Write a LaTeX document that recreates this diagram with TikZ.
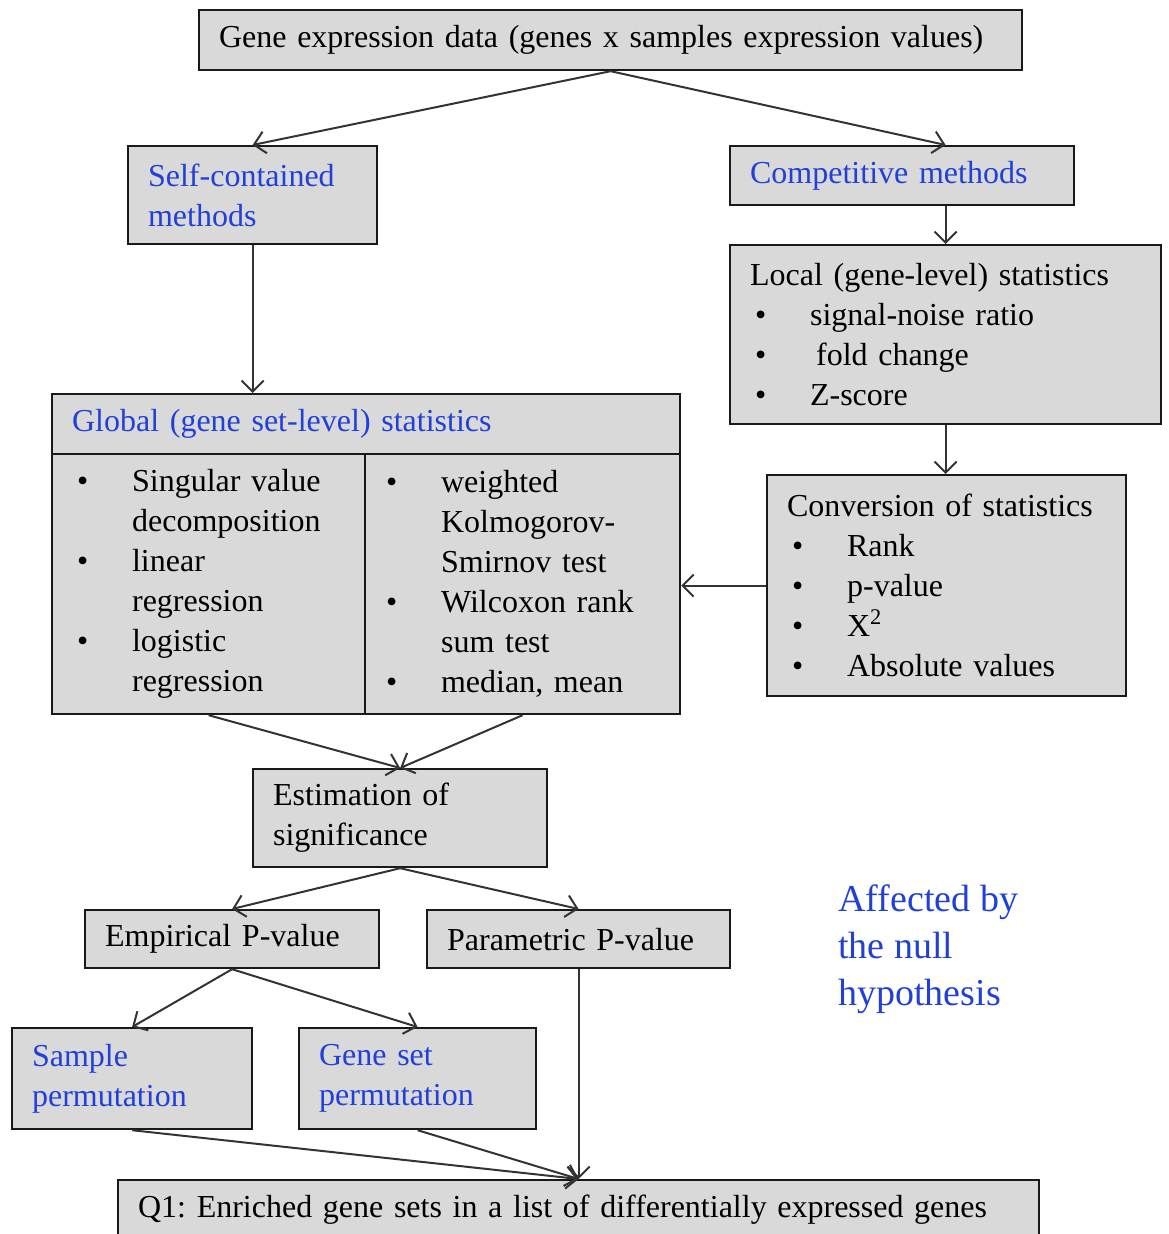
\documentclass[tikz,border=0pt]{standalone}
\usepackage{fontspec}
\setmainfont{Liberation Serif}
\usetikzlibrary{arrows.meta}
\definecolor{gseaBlue}{HTML}{2040D8}
\definecolor{gseaGray}{HTML}{D9D9D9}
\tikzset{
  gsea diagram/.style={
    x=0.5pt, y=-0.5pt,
    every node/.style={font=\fontsize{16}{20}\selectfont, text=black},
  },
  gsea box/.style={draw=black!90, line width=1.1pt, fill=gseaGray,
    anchor=north west, inner xsep=10pt, inner ysep=0pt, align=left},
  gsea method/.style={gsea box, text=gseaBlue},
  gsea arrow/.style={draw=black!80, line width=1pt,
    -{Straight Barb[length=5.5pt,width=11pt]}}
}
\newcommand{\GseaItem}[1]{\hspace*{2.5pt}\makebox[27.5pt][l]{\textbullet}#1}
\newcommand{\GseaCont}[1]{\hspace*{30pt}#1}

\begin{document}
\begin{tikzpicture}[gsea diagram]
  \useasboundingbox (0,0) rectangle (1168,1234);
  \node[gsea box, text width=391.5pt, minimum height=30pt] (top) at (198,9)
    {Gene expression data (genes x samples expression values)};
  \node[gsea method, text width=104.5pt, minimum height=49pt] (self) at (127,145)
    {Self-contained\\methods};
  \node[gsea method, text width=152pt, minimum height=29.5pt] (comp) at (729,145)
    {Competitive methods};
  \node[gsea box, text width=195.5pt, minimum height=89.5pt] (loc) at (729,244)
    {Local (gene-level) statistics\\
     \GseaItem{signal-noise ratio}\\
     \GseaItem{\hspace*{3pt}fold change}\\
     \GseaItem{Z-score}};
  % global statistics: header and two columns
  \node[gsea method, text width=294pt, minimum height=30pt] (globhead) at (51,393)
    {Global (gene set-level) statistics};
  \node[gsea box, text width=136.5pt, minimum height=130pt] (globleft) at (51,453)
    {\GseaItem{Singular value}\\
     \GseaCont{decomposition}\\
     \GseaItem{linear}\\
     \GseaCont{regression}\\
     \GseaItem{logistic}\\
     \GseaCont{regression}};
  \node[gsea box, text width=141.5pt, minimum height=130pt, inner xsep=8pt] (globright) at (364,453)
    {\GseaItem{weighted}\\
     \GseaCont{Kolmogorov-}\\
     \GseaCont{Smirnov test}\\
     \GseaItem{Wilcoxon rank}\\
     \GseaCont{sum test}\\
     \GseaItem{median, mean}};
  \node[gsea box, text width=159.5pt, minimum height=110.5pt] (conv) at (766,474)
    {Conversion of statistics\\
     \GseaItem{Rank}\\
     \GseaItem{p-value}\\
     \GseaItem{X\textsuperscript{2}}\\
     \GseaItem{Absolute values}};
  \node[gsea box, text width=127pt, minimum height=49pt] (est) at (252,768)
    {Estimation of\\significance};
  \node[gsea box, text width=127pt, minimum height=29pt] (emp) at (84,909)
    {Empirical P-value};
  \node[gsea box, text width=131.5pt, minimum height=29pt] (param) at (426,909)
    {Parametric P-value};
  \node[gsea method, text width=100pt, minimum height=50.5pt] (sample) at (11,1027)
    {Sample\\permutation};
  \node[gsea method, text width=98.5pt, minimum height=50.5pt] (geneset) at (298,1027)
    {Gene set\\permutation};
  \node[gsea box, text width=440.5pt, minimum height=30pt] (q1) at (117,1179)
    {Q1:\ Enriched gene sets in a list of differentially expressed genes};
  \node[anchor=north west, inner sep=0pt, align=left, text=gseaBlue,
    font=\fontsize{19}{23.5}\selectfont] (note) at (838,884)
    {Affected by\\the null\\hypothesis};

  \draw[gsea arrow] (top.south) -- (self.north);
  \draw[gsea arrow] (top.south) -- (comp.north -| loc.north);
  \draw[gsea arrow] (comp.south -| loc.north) -- (loc.north);
  \draw[gsea arrow] (self.south) -- (self.south |- globhead.north);
  \draw[gsea arrow] (loc.south) -- (loc.south |- conv.north);
  \draw[gsea arrow] (conv.west) -- (conv.west -| globright.east);
  \draw[gsea arrow] (globleft.south) -- (est.north);
  \draw[gsea arrow] (globright.south) -- (est.north);
  \draw[gsea arrow] (est.south) -- (emp.north);
  \draw[gsea arrow] (est.south) -- (param.north);
  \draw[gsea arrow] (emp.south) -- (sample.north);
  \draw[gsea arrow] (emp.south) -- (geneset.north);
  \draw[gsea arrow] (sample.south) -- (q1.north);
  \draw[gsea arrow] (geneset.south) -- (q1.north);
  \draw[gsea arrow] (param.south) -- (q1.north);
\end{tikzpicture}
\end{document}
